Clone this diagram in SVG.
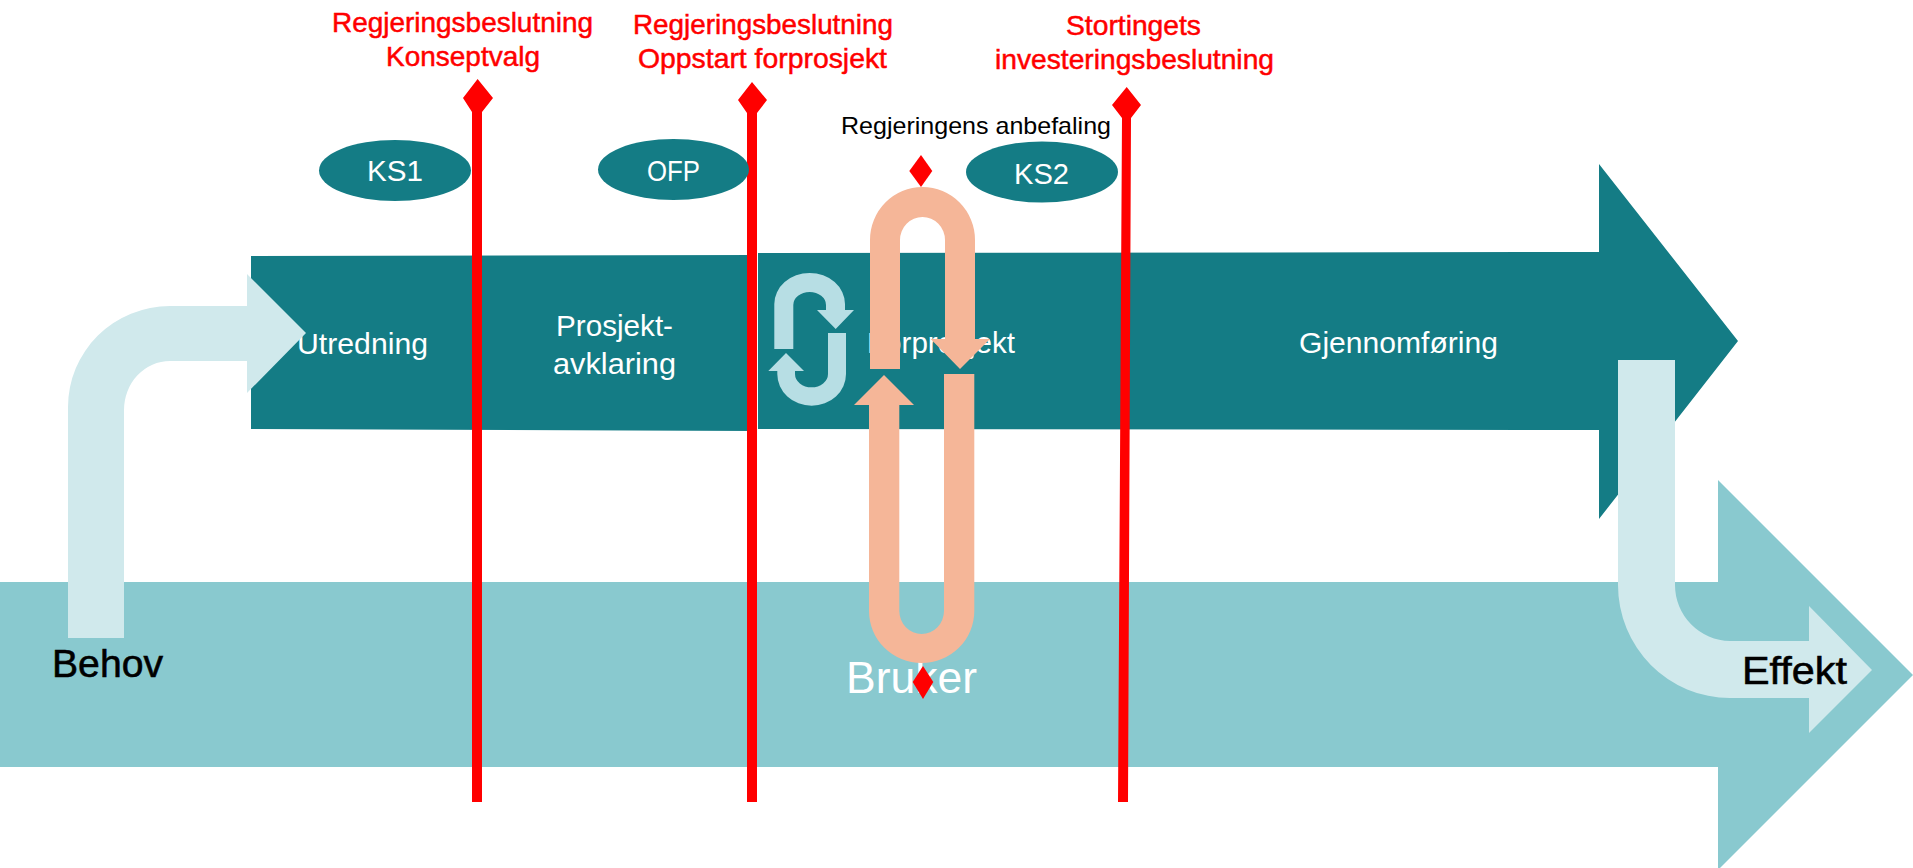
<svg xmlns="http://www.w3.org/2000/svg" width="1913" height="868" viewBox="0 0 1913 868">
<style>
.t{font-family:"Liberation Sans",Arial,sans-serif;text-anchor:start}
.w{fill:#fff;font-size:30px}
.s{fill:#fff;font-size:29px}
.r{fill:#f00;stroke:#f00;stroke-width:.5;font-size:28px}
.k{fill:#000;font-size:24px}
.b{fill:#000;stroke:#000;stroke-width:.6;font-size:39px}
.teal{fill:#147C85}.light{fill:#89C9CF}.pale{fill:#D0E9EC}.peach{fill:#F5B698}.icon{fill:#B7DEE4}.red{fill:#f00}
</style>
<rect width="1913" height="868" fill="#fff"/>
<g id="bruker">
<path class="light" d="M0 582H1718V480L1913 675L1718 870V767H0Z"/>
<text class="t" x="846" y="693" fill="#fff" font-size="44" textLength="131" lengthAdjust="spacingAndGlyphs">Bruker</text>
</g>
<g id="prosess">
<path class="teal" d="M251 256L756 255V431L251 429Z"/>
<path class="teal" d="M758 253L1599 252V164L1738 341L1599 519V430L758 429Z"/>
</g>
<g id="utredning"><text class="t w" x="297" y="354" textLength="131" lengthAdjust="spacingAndGlyphs">Utredning</text></g>
<g id="prosjektavklaring">
<text class="t w" x="556" y="336" textLength="117" lengthAdjust="spacingAndGlyphs">Prosjekt-</text>
<text class="t w" x="553" y="374" textLength="123" lengthAdjust="spacingAndGlyphs">avklaring</text>
</g>
<g id="forprosjekt"><text class="t w" x="867" y="353" textLength="148" lengthAdjust="spacingAndGlyphs">Forprosjekt</text></g>
<g id="gjennomforing"><text class="t w" x="1299" y="353" textLength="199" lengthAdjust="spacingAndGlyphs">Gjennomføring</text></g>
<g id="syklus">
<path class="icon" d="M774.300 349V304A35.350 31 0 0 1 845 304V310H854L835.700 329L817 310H826V305A16.350 13 0 0 0 793.300 305V349Z"/>
<path class="icon" d="M846 333V374A34.350 31.700 0 0 1 777.300 374V371H768.300L786 353L804 371H795V374A16.500 13.300 0 0 0 828 374V333Z"/>
</g>
<g id="connectors">
<path class="pale" d="M68 638V407A102 101 0 0 1 170 306H247V274L306 333L247 393V361H170A46 49 0 0 0 124 410V638Z"/>
<path class="pale" d="M1618 360H1675V585A56 56 0 0 0 1730 641H1809V606L1872 670L1809 733V698H1730A112 113 0 0 1 1618 585Z"/>
<path class="peach" d="M870 369V240A52.500 53 0 0 1 975 240V339H990L960 369L930.700 339H945V240A22.500 23 0 0 0 900 240V369Z"/>
<path class="peach" d="M944 374H974.300V611A52.650 52 0 0 1 869 611V405H854L884 375L914 405H899.300V611A22.350 23 0 0 0 944 611Z"/>
<path class="red" d="M472 802V112L463 98L477.600 79L493 98L482 112V802Z"/>
<path class="red" d="M747 802V113L738 100L752 82L767 100L757 113V802Z"/>
<path class="red" d="M1122 118L1112 105L1126.700 87L1141 105L1131 118L1128 802H1118Z"/>
<path class="red" d="M921 155L932.300 171L921 187L909.300 171Z"/>
<path class="red" d="M923 666L933.300 682L923 699L912.700 682Z"/>
</g>
<g id="ks1"><ellipse class="teal" cx="395" cy="170.500" rx="76" ry="30.500"/><text class="t s" x="367" y="181" textLength="56" lengthAdjust="spacingAndGlyphs">KS1</text></g>
<g id="ofp"><ellipse class="teal" cx="673.500" cy="169.500" rx="75.500" ry="30.500"/><text class="t s" x="647" y="181" textLength="53" lengthAdjust="spacingAndGlyphs">OFP</text></g>
<g id="ks2"><ellipse class="teal" cx="1042" cy="172" rx="76" ry="30.500"/><text class="t s" x="1014" y="184" textLength="55" lengthAdjust="spacingAndGlyphs">KS2</text></g>
<g id="beslutning1">
<text class="t r" x="332" y="32" textLength="261" lengthAdjust="spacingAndGlyphs">Regjeringsbeslutning</text>
<text class="t r" x="386" y="66" textLength="154" lengthAdjust="spacingAndGlyphs">Konseptvalg</text>
</g>
<g id="beslutning2">
<text class="t r" x="633" y="34" textLength="260" lengthAdjust="spacingAndGlyphs">Regjeringsbeslutning</text>
<text class="t r" x="638" y="68" textLength="249" lengthAdjust="spacingAndGlyphs">Oppstart forprosjekt</text>
</g>
<g id="beslutning3">
<text class="t r" x="1066" y="35" textLength="135" lengthAdjust="spacingAndGlyphs">Stortingets</text>
<text class="t r" x="995" y="69" textLength="279" lengthAdjust="spacingAndGlyphs">investeringsbeslutning</text>
</g>
<g id="anbefaling"><text class="t k" x="841" y="134" textLength="270" lengthAdjust="spacingAndGlyphs">Regjeringens anbefaling</text></g>
<g id="behov"><text class="t b" x="52" y="677" textLength="111" lengthAdjust="spacingAndGlyphs">Behov</text></g>
<g id="effekt"><text class="t b" x="1742" y="684" textLength="105" lengthAdjust="spacingAndGlyphs">Effekt</text></g>
</svg>
